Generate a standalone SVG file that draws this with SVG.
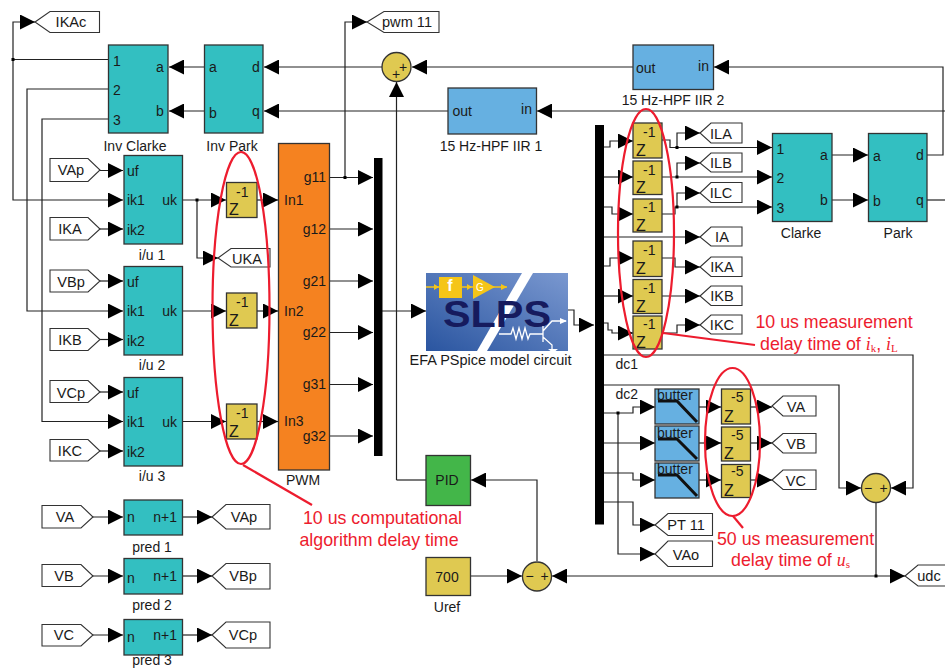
<svg xmlns="http://www.w3.org/2000/svg" width="945" height="668" viewBox="0 0 945 668">
<style>
text{font-family:"Liberation Sans",Arial,sans-serif;font-size:14px;fill:#1a1a1a}
.tag+text{font-size:14.600px}
.z{font-size:16px}
.m{text-anchor:middle}
.e{text-anchor:end}
.b{stroke:#333;stroke-width:1.3}
.teal{fill:#33bfc1}
.yel{fill:#dfc951}
.blue{fill:#66b0e1}
.tag{fill:#fff;stroke:#333;stroke-width:1.1}
.c{fill:none;stroke:#222;stroke-width:1.2}
.a{marker-end:url(#arr)}
.r{fill:none;stroke:#ed1c2e;stroke-width:2.2}
.t{fill:#ed1c2e;font-size:17.8px}
.s{font-family:"Liberation Serif","Times New Roman",serif;font-style:italic}
.u{font-family:"Liberation Serif","Times New Roman",serif;font-size:11px}
.f{fill:none;stroke:#111;stroke-width:3}
</style>
<defs>
<marker id="arr" markerUnits="userSpaceOnUse" markerWidth="15" markerHeight="15" viewBox="0 0 15 15" refX="15" refY="7.5" orient="auto"><path d="M0 0L15 7.5L0 15Z" fill="#000"/></marker>
<linearGradient id="sl" x1="0" y1="1" x2="1" y2="0"><stop offset="0" stop-color="#2a55a0"/><stop offset="1" stop-color="#7a98d0"/></linearGradient>
</defs>

<g id="connectors">
<path class="c a" d="M13 60V22H35"/>
<path class="c" d="M108 59.500H13V60"/>
<path class="c a" d="M13 60V200H123"/>
<path class="c a" d="M108 89H27V311H123"/>
<path class="c a" d="M108 119H42V421.500H123"/>
<path class="c a" d="M204 67H169"/>
<path class="c a" d="M204 111H169"/>
<path class="c a" d="M382 67H264"/>
<path class="c a" d="M448 111H264"/>
<path class="c a" d="M633 67H412"/>
<path class="c a" d="M396.500 480H396.500V82"/>
<path class="c" d="M426 480H396.500"/>
<path class="c a" d="M945 111H537"/>
<path class="c a" d="M927 155H943V67H714"/>
<path class="c" d="M927 200H945"/>
<path class="c a" d="M87 170.500H123"/>
<path class="c a" d="M100 229H123"/>
<path class="c a" d="M100 281H123"/>
<path class="c a" d="M100 339.500H123"/>
<path class="c a" d="M100 392H123"/>
<path class="c a" d="M100 451H123"/>
<path class="c a" d="M183 200H226"/>
<path class="c a" d="M197 200V258H218"/>
<path class="c a" d="M183 311H226"/>
<path class="c a" d="M183 421.500H226"/>
<path class="c a" d="M257 200H278"/>
<path class="c a" d="M257 311H278"/>
<path class="c a" d="M257 421.500H278"/>
<path class="c a" d="M330 177.500H373"/>
<path class="c a" d="M345 177.500V22H367"/>
<path class="c a" d="M330 229H373"/>
<path class="c a" d="M330 281H373"/>
<path class="c a" d="M330 332.500H373"/>
<path class="c a" d="M330 384.500H373"/>
<path class="c a" d="M330 436H373"/>
<path class="c a" d="M382 311H426"/>
<path class="c a" d="M567 310H574V325H594"/>
<path class="c a" d="M604 147H610V141H633"/>
<path class="c a" d="M604 177H633"/>
<path class="c a" d="M604 207H612V214H633"/>
<path class="c a" d="M604 237H700"/>
<path class="c a" d="M604 266H610V258H633"/>
<path class="c a" d="M604 296H633"/>
<path class="c a" d="M604 323H608V330H612V333H633"/>
<path class="c" d="M662 140H670V147.500H677"/>
<path class="c a" d="M677 147.500H772"/>
<path class="c a" d="M677 147.500V133H700"/>
<path class="c a" d="M662 177H772"/>
<path class="c a" d="M677 177V163H700"/>
<path class="c" d="M662 214H675V207H677"/>
<path class="c a" d="M677 207H772"/>
<path class="c a" d="M677 207V193H700"/>
<path class="c a" d="M662 258H675V267H700"/>
<path class="c a" d="M662 296H700"/>
<path class="c a" d="M662 333H677V325H700"/>
<path class="c a" d="M832 155H868"/>
<path class="c a" d="M832 200H868"/>
<path class="c a" d="M604 355H913V488H891"/>
<path class="c a" d="M604 385H839V488H861"/>
<path class="c a" d="M604 413H633V407H655"/>
<path class="c a" d="M604 443H655"/>
<path class="c a" d="M604 473H633V480H655"/>
<path class="c a" d="M604 502H633V525H655"/>
<path class="c a" d="M618 413V554H655"/>
<path class="c a" d="M699 407H721"/>
<path class="c a" d="M699 443H721"/>
<path class="c a" d="M699 480H721"/>
<path class="c a" d="M750 407H772"/>
<path class="c a" d="M750 443H772"/>
<path class="c a" d="M750 480H772"/>
<path class="c a" d="M876 502V576H905"/>
<path class="c a" d="M876 576H552"/>
<path class="c a" d="M537 561V480H471"/>
<path class="c a" d="M470 576H522"/>
<path class="c a" d="M88 517H123"/>
<path class="c a" d="M88 576H123"/>
<path class="c a" d="M88 635H123"/>
<path class="c a" d="M183 517H212"/>
<path class="c a" d="M183 576H212"/>
<path class="c a" d="M183 635H212"/>
<g fill="#000">
<rect x="11.500" y="58" width="3" height="3"/><rect x="195.500" y="198.500" width="3" height="3"/><rect x="343.500" y="176" width="3" height="3"/><rect x="675.500" y="146" width="3" height="3"/><rect x="675.500" y="175.500" width="3" height="3"/><rect x="675.500" y="205.500" width="3" height="3"/><rect x="616.500" y="411.500" width="3" height="3"/><rect x="874.500" y="574.500" width="3" height="3"/>
</g>
</g>

<g id="goto-IKAc"><polygon class="tag" points="35,22 50,11.500 99.500,11.500 99.500,32.500 50,32.500"/><text class="m" x="71" y="27">IKAc</text></g>
<g id="goto-pwm11"><polygon class="tag" points="367,22 384,11.500 439,11.500 439,32.500 384,32.500"/><text class="m" x="407" y="27">pwm 11</text></g>

<g id="inv-clarke"><rect class="b teal" x="108.500" y="45" width="59.500" height="88"/><text x="113" y="66">1</text><text x="113" y="95">2</text><text x="113" y="125">3</text><text x="156" y="72">a</text><text x="156" y="116">b</text><text class="m" x="135" y="151">Inv Clarke</text></g>
<g id="inv-park"><rect class="b teal" x="204.500" y="45" width="58.500" height="88"/><text x="209" y="72">a</text><text x="209" y="118">b</text><text x="252" y="72">d</text><text x="252" y="116">q</text><text class="m" x="232" y="151">Inv Park</text></g>

<g id="iu1"><rect class="b teal" x="124" y="155.500" width="58.500" height="88.500"/><text x="127" y="176">uf</text><text x="127" y="205">ik1</text><text x="127" y="235">ik2</text><text class="e" x="177" y="205">uk</text><text class="m" x="152" y="260">i/u 1</text></g>
<g id="iu2"><rect class="b teal" x="124" y="266.500" width="58.500" height="88.500"/><text x="127" y="287">uf</text><text x="127" y="316">ik1</text><text x="127" y="346">ik2</text><text class="e" x="177" y="316">uk</text><text class="m" x="152" y="370">i/u 2</text></g>
<g id="iu3"><rect class="b teal" x="124" y="377.500" width="58.500" height="88.500"/><text x="127" y="398">uf</text><text x="127" y="427">ik1</text><text x="127" y="457">ik2</text><text class="e" x="177" y="427">uk</text><text class="m" x="152" y="481">i/u 3</text></g>

<g id="from-VAp"><polygon class="tag" points="50,158.500 88,158.500 100,170 88,181.500 50,181.500"/><text class="m" x="71" y="175">VAp</text></g>
<g id="from-IKA"><polygon class="tag" points="50,217.500 88,217.500 100,229 88,240 50,240"/><text class="m" x="70" y="234">IKA</text></g>
<g id="from-VBp"><polygon class="tag" points="50,270 88,270 100,281 88,292 50,292"/><text class="m" x="71" y="287">VBp</text></g>
<g id="from-IKB"><polygon class="tag" points="50,328.500 88,328.500 100,339.500 88,350.500 50,350.500"/><text class="m" x="70" y="345">IKB</text></g>
<g id="from-VCp"><polygon class="tag" points="50,380.500 88,380.500 100,392 88,402.500 50,402.500"/><text class="m" x="71" y="398">VCp</text></g>
<g id="from-IKC"><polygon class="tag" points="50,439.500 88,439.500 100,451 88,461 50,461"/><text class="m" x="70" y="456">IKC</text></g>

<g id="d1"><rect class="b yel" x="226.500" y="182.500" width="30.500" height="35"/><text x="236" y="197">-1</text><text class="z" x="229" y="215">Z</text></g>
<g id="d2"><rect class="b yel" x="226.500" y="293" width="30.500" height="35"/><text x="236" y="307">-1</text><text class="z" x="229" y="326">Z</text></g>
<g id="d3"><rect class="b yel" x="226.500" y="404" width="30.500" height="35"/><text x="236" y="418">-1</text><text class="z" x="229" y="437">Z</text></g>
<g id="goto-UKA"><polygon class="tag" points="218,258 231,248.500 270,248.500 270,267 231,267"/><text class="m" x="247" y="264">UKA</text></g>

<g id="pwm"><rect class="b" x="278.500" y="143.500" width="51" height="326.500" fill="#f58220"/><text x="284" y="205">In1</text><text x="284" y="316">In2</text><text x="284" y="426">In3</text><text class="e" x="326" y="182">g11</text><text class="e" x="326" y="234">g12</text><text class="e" x="326" y="286">g21</text><text class="e" x="326" y="337">g22</text><text class="e" x="326" y="389">g31</text><text class="e" x="326" y="441">g32</text><text class="m" x="303" y="485">PWM</text></g>
<g id="bus1"><rect x="374" y="158" width="8.500" height="298" fill="#000"/></g>
<g id="sum1"><circle class="b yel" cx="396.500" cy="67" r="14.500"/><text class="m" x="403" y="71.500">+</text><text class="m" x="396" y="79">+</text></g>
<g id="hpf1"><rect class="b blue" x="448" y="88" width="88.500" height="46"/><text x="452.500" y="116">out</text><text class="e" x="532" y="114">in</text><text class="m" x="491" y="151">15 Hz-HPF IIR 1</text></g>
<g id="hpf2"><rect class="b blue" x="633" y="45" width="80.500" height="44.500"/><text x="636" y="73">out</text><text class="e" x="709" y="71">in</text><text class="m" x="673" y="105">15 Hz-HPF IIR 2</text></g>

<g id="slps">
<rect x="426" y="273" width="142" height="78" fill="url(#sl)"/>
<polygon points="522,273 533,273 487,351 477,351" fill="#fff"/>
<path d="M426 287H507" stroke="#f5c518" stroke-width="1.500" fill="none"/>
<path d="M434 284l5 3l-5 3zM467 284l5 3l-5 3zM501 284l6 3l-6 3z" fill="#f5c518"/>
<rect x="439" y="277" width="23" height="21" fill="#f5c518"/>
<text class="m" x="450" y="291" style="font-size:16px;font-weight:bold;fill:#fff">f</text>
<polygon points="473,275 473,299 495,287" fill="#f5c518"/>
<text x="476" y="291" style="font-size:10px;fill:#fff">G</text>
<text x="443" y="327" textLength="108" lengthAdjust="spacingAndGlyphs" style="font-size:36px;font-weight:bold;fill:#161b5e">SLPS</text>
<path d="M499 334H511l2-6l3 11l3-11l3 11l3-11l3 11l2-5H543M543 326V342M543 331L552 321H566M543 337L552 345V349" fill="none" stroke="#fff" stroke-width="1.300"/>
<path d="M560 318l7 3l-7 3zM548 349h10l-5 4z" fill="#fff"/>
<text class="m" x="490.500" y="365" style="font-size:14.500px">EFA PSpice model circuit</text>
</g>

<g id="bus2"><rect x="595" y="125" width="9" height="399.500" fill="#000"/></g>
<text x="615.500" y="369">dc1</text>
<text x="615.500" y="399">dc2</text>

<g id="z1"><rect class="b yel" x="633" y="123" width="29" height="35"/><text x="643" y="137">-1</text><text class="z" x="636" y="156">Z</text></g>
<g id="z2"><rect class="b yel" x="633" y="161" width="29" height="33.500"/><text x="643" y="175">-1</text><text class="z" x="636" y="193">Z</text></g>
<g id="z3"><rect class="b yel" x="633" y="199" width="29" height="33"/><text x="643" y="212">-1</text><text class="z" x="636" y="231">Z</text></g>
<g id="z4"><rect class="b yel" x="633" y="241" width="29" height="35.500"/><text x="643" y="255">-1</text><text class="z" x="636" y="274">Z</text></g>
<g id="z5"><rect class="b yel" x="633" y="279.500" width="29" height="34"/><text x="643" y="293">-1</text><text class="z" x="636" y="312">Z</text></g>
<g id="z6"><rect class="b yel" x="633" y="316" width="29" height="33"/><text x="643" y="329">-1</text><text class="z" x="636" y="348">Z</text></g>

<g id="goto-ILA"><polygon class="tag" points="700,133 711,123 742,123 742,143 711,143"/><text class="m" x="721" y="139">ILA</text></g>
<g id="goto-ILB"><polygon class="tag" points="700,163 711,153 742,153 742,172 711,172"/><text class="m" x="721" y="168">ILB</text></g>
<g id="goto-ILC"><polygon class="tag" points="700,193 711,182.500 742,182.500 742,202.500 711,202.500"/><text class="m" x="721" y="198">ILC</text></g>
<g id="goto-IA"><polygon class="tag" points="700,237 711,227 742,227 742,246 711,246"/><text class="m" x="722" y="242">IA</text></g>
<g id="goto-IKA"><polygon class="tag" points="700,267 711,257 742,257 742,276.500 711,276.500"/><text class="m" x="722" y="272">IKA</text></g>
<g id="goto-IKB"><polygon class="tag" points="700,296 711,286 742,286 742,305.500 711,305.500"/><text class="m" x="722" y="301">IKB</text></g>
<g id="goto-IKC"><polygon class="tag" points="700,325 711,315 742,315 742,334 711,334"/><text class="m" x="722" y="330">IKC</text></g>

<g id="clarke"><rect class="b teal" x="772.500" y="133.500" width="59.500" height="88"/><text x="776.500" y="154">1</text><text x="776.500" y="183">2</text><text x="776.500" y="213">3</text><text x="820" y="160">a</text><text x="820" y="205">b</text><text class="m" x="801" y="238">Clarke</text></g>
<g id="park"><rect class="b teal" x="868.500" y="133.500" width="58.500" height="88"/><text x="873" y="161">a</text><text x="873" y="206">b</text><text x="916" y="160">d</text><text x="916" y="205">q</text><text class="m" x="898" y="238">Park</text></g>

<g id="b1"><rect class="b blue" x="655" y="389" width="44" height="35"/><text x="657" y="400">butter</text><path class="f" d="M658 401H677L697 422"/></g>
<g id="b2"><rect class="b blue" x="655" y="426" width="44" height="35"/><text x="657" y="438">butter</text><path class="f" d="M658 439H677L697 459"/></g>
<g id="b3"><rect class="b blue" x="655" y="463" width="44" height="35"/><text x="657" y="474">butter</text><path class="f" d="M658 475H677L697 496"/></g>
<g id="f1"><rect class="b yel" x="721.500" y="389" width="29" height="35"/><text x="731" y="402">-5</text><text class="z" x="724" y="422">Z</text></g>
<g id="f2"><rect class="b yel" x="721.500" y="427" width="29" height="34"/><text x="731" y="440">-5</text><text class="z" x="724" y="459">Z</text></g>
<g id="f3"><rect class="b yel" x="721.500" y="464.500" width="29" height="33"/><text x="731" y="476">-5</text><text class="z" x="724" y="496">Z</text></g>
<g id="goto-VA"><polygon class="tag" points="772,406 783,396 816,396 816,416 783,416"/><text class="m" x="796" y="412">VA</text></g>
<g id="goto-VB"><polygon class="tag" points="772,443 783,433.500 816,433.500 816,453 783,453"/><text class="m" x="796" y="449">VB</text></g>
<g id="goto-VC"><polygon class="tag" points="772,480 783,470 816,470 816,489.500 783,489.500"/><text class="m" x="796" y="486">VC</text></g>
<g id="goto-PT11"><polygon class="tag" points="655,525 668,513.500 712.500,513.500 712.500,535.500 668,535.500"/><text class="m" x="686" y="530">PT 11</text></g>
<g id="goto-VAo"><polygon class="tag" points="655,554 668,541 712.500,541 712.500,566.500 668,566.500"/><text class="m" x="686" y="560">VAo</text></g>
<g id="sum3"><circle class="b yel" cx="876" cy="488" r="14.500"/><text class="m" x="868" y="493">−</text><text class="m" x="883.500" y="493">+</text></g>
<g id="goto-udc"><polygon class="tag" points="905,576 918,565 946,565 946,586 918,586"/><text class="m" x="929" y="581">udc</text></g>

<g id="pid"><rect class="b" x="426" y="455.500" width="44.500" height="50" fill="#43b649"/><text class="m" x="447" y="485">PID</text></g>
<g id="uref"><rect class="b yel" x="426" y="557.500" width="44.500" height="38"/><text class="m" x="447" y="582">700</text><text class="m" x="447" y="612">Uref</text></g>
<g id="sum2"><circle class="b yel" cx="537" cy="576.500" r="14.500"/><text class="m" x="529.500" y="581">−</text><text class="m" x="544.500" y="581">+</text></g>

<g id="pred1"><rect class="b teal" x="124" y="500" width="58.500" height="35"/><text x="127" y="522">n</text><text class="e" x="177" y="522">n+1</text><text class="m" x="152" y="552">pred 1</text></g>
<g id="pred2"><rect class="b teal" x="124" y="558.500" width="58.500" height="35.500"/><text x="127" y="583">n</text><text class="e" x="177" y="581">n+1</text><text class="m" x="152" y="610">pred 2</text></g>
<g id="pred3"><rect class="b teal" x="124" y="619.500" width="58.500" height="35.500"/><text x="127" y="642">n</text><text class="e" x="177" y="640">n+1</text><text class="m" x="152" y="664.500">pred 3</text></g>

<g id="from-VA"><polygon class="tag" points="42,505.500 81,505.500 93,517 81,528 42,528"/><text class="m" x="65" y="522">VA</text></g>
<g id="from-VB"><polygon class="tag" points="42,564.500 81,564.500 93,576 81,586.500 42,586.500"/><text class="m" x="64" y="581">VB</text></g>
<g id="from-VC"><polygon class="tag" points="42,624.500 81,624.500 93,635 81,646 42,646"/><text class="m" x="64" y="640">VC</text></g>
<g id="goto-VAp"><polygon class="tag" points="212,517 226,504.500 270,504.500 270,529 226,529"/><text class="m" x="244" y="522">VAp</text></g>
<g id="goto-VBp"><polygon class="tag" points="212,576 226,563.500 270,563.500 270,589 226,589"/><text class="m" x="243" y="581">VBp</text></g>
<g id="goto-VCp"><polygon class="tag" points="212,635 226,622 270,622 270,648 226,648"/><text class="m" x="243" y="640">VCp</text></g>

<g id="annotations">
<ellipse class="r" cx="241" cy="308" rx="28.500" ry="156"/>
<path class="r" d="M243 465L312 505"/>
<ellipse class="r" cx="646" cy="233" rx="28" ry="124"/>
<path class="r" d="M663 333L755 345"/>
<ellipse class="r" cx="732.500" cy="442" rx="27.500" ry="74"/>
<path class="r" d="M733 516L743 528"/>
<text class="t m" x="834" y="328">10 us measurement</text>
<text class="t" x="760" y="350">delay time of <tspan class="s">i</tspan><tspan class="u" dy="2">k</tspan><tspan dy="-2">, </tspan><tspan class="s">i</tspan><tspan class="u" dy="2">L</tspan></text>
<text class="t m" x="795.500" y="545">50 us measurement</text>
<text class="t" x="731" y="566">delay time of <tspan class="s">u</tspan><tspan class="u" dy="2">s</tspan></text>
<text class="t m" x="382.500" y="524">10 us computational</text>
<text class="t m" x="379" y="546">algorithm delay time</text>
</g>
</svg>
